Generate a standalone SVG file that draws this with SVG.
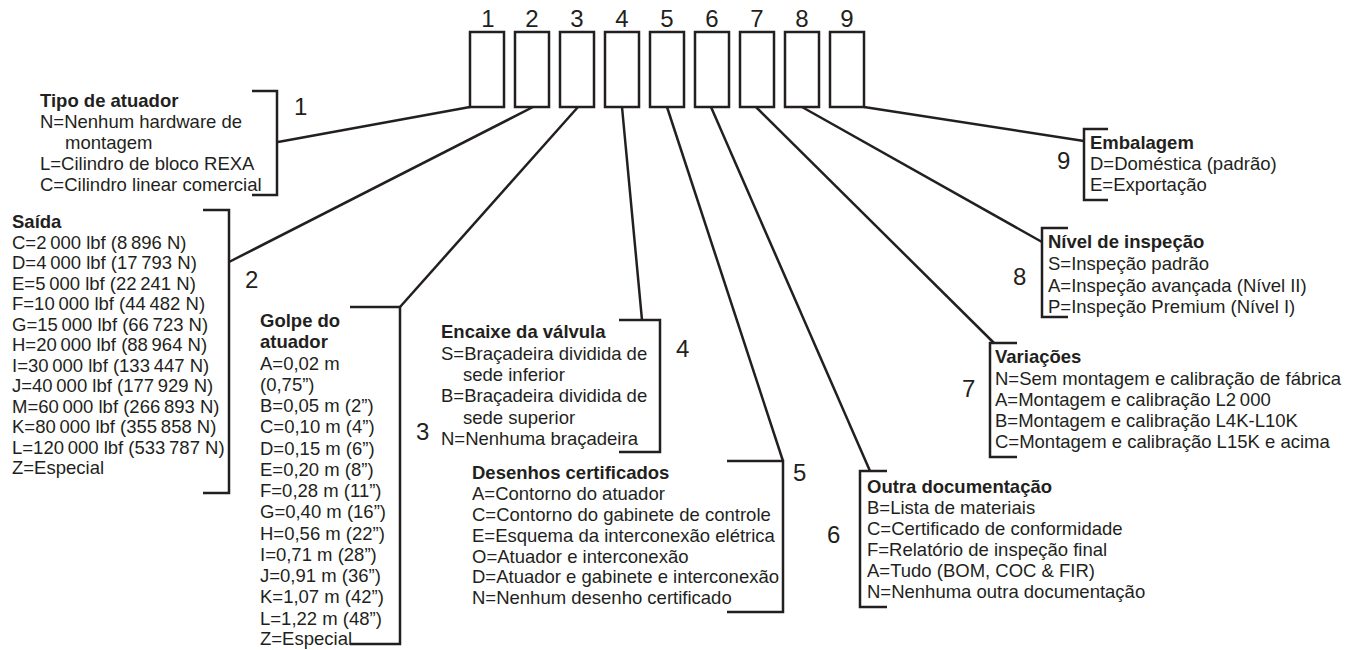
<svg xmlns="http://www.w3.org/2000/svg" width="1364" height="650" viewBox="0 0 1364 650">
  <style>
    text { font-family: "Liberation Sans", Arial, sans-serif; font-size: 18.5px; fill: #231f20; }
    .hd { font-weight: bold; }
    .num { font-size: 24px; }
    .box { fill: #ffffff; stroke: #231f20; stroke-width: 2.5; }
    .ln { fill: none; stroke: #231f20; stroke-width: 2.5; stroke-linejoin: miter; }
  </style>
  <rect width="1364" height="650" fill="#ffffff"/>

  <!-- code position boxes -->
  <g id="positions">
    <rect class="box" x="470" y="32" width="34" height="75"/>
    <rect class="box" x="515" y="32" width="34" height="75"/>
    <rect class="box" x="560" y="32" width="34" height="75"/>
    <rect class="box" x="605" y="32" width="34" height="75"/>
    <rect class="box" x="650" y="32" width="34" height="75"/>
    <rect class="box" x="695" y="32" width="34" height="75"/>
    <rect class="box" x="740" y="32" width="34" height="75"/>
    <rect class="box" x="785" y="32" width="34" height="75"/>
    <rect class="box" x="830" y="32" width="34" height="75"/>
    <g text-anchor="middle">
      <text class="num" x="488" y="27">1</text>
      <text class="num" x="532" y="27">2</text>
      <text class="num" x="577" y="27">3</text>
      <text class="num" x="622" y="27">4</text>
      <text class="num" x="667" y="27">5</text>
      <text class="num" x="712" y="27">6</text>
      <text class="num" x="757" y="27">7</text>
      <text class="num" x="802" y="27">8</text>
      <text class="num" x="847" y="27">9</text>
    </g>
  </g>

  <!-- leader lines from each box to its option list -->
  <g id="connectors">
    <polyline class="ln" points="470,107 278,142"/>
    <polyline class="ln" points="533,107 229,262"/>
    <polyline class="ln" points="578,107 400,307"/>
    <polyline class="ln" points="622,107 642,320"/>
    <polyline class="ln" points="667,107 783,461"/>
    <polyline class="ln" points="711,107 870,471"/>
    <polyline class="ln" points="756,107 994,343"/>
    <polyline class="ln" points="802,107 1042,242"/>
    <polyline class="ln" points="864,107 1084,141"/>
  </g>

  <g id="pos1">
    <polyline class="ln" points="252,91 277,91 277,195 252,195"/>
    <text class="num" x="294" y="115">1</text>
    <text class="hd" x="40" y="107">Tipo de atuador</text>
    <text x="40" y="128">N=Nenhum hardware de</text>
    <text x="65" y="149">montagem</text>
    <text x="40" y="170">L=Cilindro de bloco REXA</text>
    <text x="40" y="191">C=Cilindro linear comercial</text>
  </g>

  <g id="pos2">
    <polyline class="ln" points="203,210 229,210 229,493 203,493"/>
    <text class="num" x="245" y="288">2</text>
    <text class="hd" x="12" y="228">Saída</text>
    <text x="12" y="248.5">C=2&#8201;000 lbf (8&#8201;896 N)</text>
    <text x="12" y="269">D=4&#8201;000 lbf (17&#8201;793 N)</text>
    <text x="12" y="289.5">E=5&#8201;000 lbf (22&#8201;241 N)</text>
    <text x="12" y="310">F=10&#8201;000 lbf (44&#8201;482 N)</text>
    <text x="12" y="330.5">G=15&#8201;000 lbf (66&#8201;723 N)</text>
    <text x="12" y="351">H=20&#8201;000 lbf (88&#8201;964 N)</text>
    <text x="12" y="371.5">I=30&#8201;000 lbf (133&#8201;447 N)</text>
    <text x="12" y="392">J=40&#8201;000 lbf (177&#8201;929 N)</text>
    <text x="12" y="412.5">M=60&#8201;000 lbf (266&#8201;893 N)</text>
    <text x="12" y="433">K=80&#8201;000 lbf (355&#8201;858 N)</text>
    <text x="12" y="453.5">L=120&#8201;000 lbf (533&#8201;787 N)</text>
    <text x="12" y="474">Z=Especial</text>
  </g>

  <g id="pos3">
    <polyline class="ln" points="350,307 400,307 400,644 350,644"/>
    <text class="num" x="416" y="440">3</text>
    <text class="hd" x="260" y="327">Golpe do</text>
    <text class="hd" x="260" y="348">atuador</text>
    <text x="260" y="369.5">A=0,02 m</text>
    <text x="260" y="390.5">(0,75”)</text>
    <text x="260" y="412">B=0,05 m (2”)</text>
    <text x="260" y="433">C=0,10 m (4”)</text>
    <text x="260" y="454.5">D=0,15 m (6”)</text>
    <text x="260" y="475.5">E=0,20 m (8”)</text>
    <text x="260" y="497">F=0,28 m (11”)</text>
    <text x="260" y="518">G=0,40 m (16”)</text>
    <text x="260" y="539.5">H=0,56 m (22”)</text>
    <text x="260" y="560.5">I=0,71 m (28”)</text>
    <text x="260" y="582">J=0,91 m (36”)</text>
    <text x="260" y="603">K=1,07 m (42”)</text>
    <text x="260" y="624.5">L=1,22 m (48”)</text>
    <text x="260" y="645">Z=Especial</text>
  </g>

  <g id="pos4">
    <polyline class="ln" points="619,320 660,320 660,452 619,452"/>
    <text class="num" x="676" y="357">4</text>
    <text class="hd" x="441" y="338">Encaixe da válvula</text>
    <text x="441" y="359.5">S=Braçadeira dividida de</text>
    <text x="463" y="381">sede inferior</text>
    <text x="441" y="402">B=Braçadeira dividida de</text>
    <text x="463" y="423.5">sede superior</text>
    <text x="441" y="445">N=Nenhuma braçadeira</text>
  </g>

  <g id="pos5">
    <polyline class="ln" points="727,461 783,461 783,612 727,612"/>
    <text class="num" x="793" y="481">5</text>
    <text class="hd" x="472" y="479">Desenhos certificados</text>
    <text x="472" y="500">A=Contorno do atuador</text>
    <text x="472" y="521">C=Contorno do gabinete de controle</text>
    <text x="472" y="541.5">E=Esquema da interconexão elétrica</text>
    <text x="472" y="562.5">O=Atuador e interconexão</text>
    <text x="472" y="583">D=Atuador e gabinete e interconexão</text>
    <text x="472" y="604">N=Nenhum desenho certificado</text>
  </g>

  <g id="pos6">
    <polyline class="ln" points="887,471 860,471 860,607 887,607"/>
    <text class="num" x="827" y="543">6</text>
    <text class="hd" x="867" y="493">Outra documentação</text>
    <text x="867" y="514">B=Lista de materiais</text>
    <text x="867" y="535">C=Certificado de conformidade</text>
    <text x="867" y="556">F=Relatório de inspeção final</text>
    <text x="867" y="577">A=Tudo (BOM, COC &amp; FIR)</text>
    <text x="867" y="598">N=Nenhuma outra documentação</text>
  </g>

  <g id="pos7">
    <polyline class="ln" points="1017,343 990,343 990,457 1017,457"/>
    <text class="num" x="962" y="397">7</text>
    <text class="hd" x="995" y="363">Variações</text>
    <text x="995" y="384.5">N=Sem montagem e calibração de fábrica</text>
    <text x="995" y="405.5">A=Montagem e calibração L2&#8201;000</text>
    <text x="995" y="427">B=Montagem e calibração L4K-L10K</text>
    <text x="995" y="448">C=Montagem e calibração L15K e acima</text>
  </g>

  <g id="pos8">
    <polyline class="ln" points="1068,228 1042,228 1042,317 1068,317"/>
    <text class="num" x="1013" y="285">8</text>
    <text class="hd" x="1048" y="248">Nível de inspeção</text>
    <text x="1048" y="270">S=Inspeção padrão</text>
    <text x="1048" y="291.5">A=Inspeção avançada (Nível II)</text>
    <text x="1048" y="313">P=Inspeção Premium (Nível I)</text>
  </g>

  <g id="pos9">
    <polyline class="ln" points="1108,129 1084,129 1084,200 1108,200"/>
    <text class="num" x="1057" y="169">9</text>
    <text class="hd" x="1090" y="149">Embalagem</text>
    <text x="1090" y="170">D=Doméstica (padrão)</text>
    <text x="1090" y="191">E=Exportação</text>
  </g>
</svg>
